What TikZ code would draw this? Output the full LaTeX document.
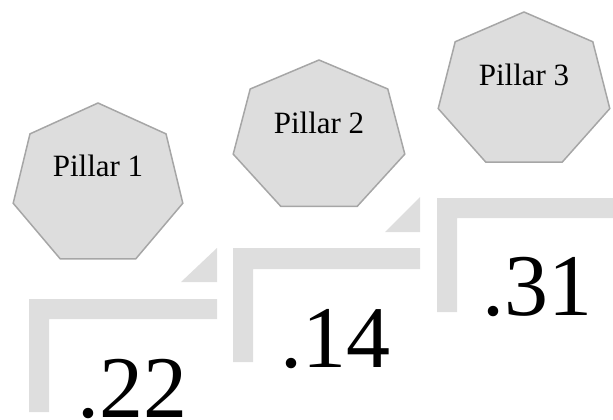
\documentclass[tikz,border=0pt]{standalone}
\usepackage{fontspec}
\setmainfont{Liberation Serif}
\usetikzlibrary{positioning}

\begin{document}
\begin{tikzpicture}[x=1pt,y=-1pt]
	\tikzstyle{pillar}=[draw={gray!70},fill={gray!27},line width=1.5pt,line join=miter]
	\tikzstyle{stair}=[fill={gray!26}]
	\tikzstyle{caption}=[font=\fontsize{31}{31}\selectfont,inner sep=0pt,anchor=base]
	\tikzstyle{score}=[font=\fontsize{88}{88}\selectfont,inner sep=0pt,anchor=base]

	\useasboundingbox (0,0) rectangle (613,420);

	% stairs
	\fill[stair] (29,299) -- (217,299) -- (217,319) -- (49,319) -- (49,412) -- (29,412) -- cycle;
	\fill[stair] (181,282) -- (217,282) -- (217,248) -- cycle;
	\fill[stair] (233,248) -- (420,248) -- (420,269) -- (253,269) -- (253,362) -- (233,362) -- cycle;
	\fill[stair] (385,232) -- (420,232) -- (420,197) -- cycle;
	\fill[stair] (437,198) -- (613,198) -- (613,218) -- (457,218) -- (457,312) -- (437,312) -- cycle;

	% pillars
	\foreach \cx/\cy/\rx/\ry/\n in {98/185/87/82/1, 319/137/88/77/2, 524/91/88/79/3} {
		\draw[pillar] plot[samples at={0,...,6}] ({\cx+\rx*cos(90+\x*360/7)},{\cy-\ry*sin(90+\x*360/7)}) -- cycle;
		\node[caption] (p\n) at (\cx,\cy-\ry+73) {Pillar \n};
	}

	% scores
	\node[score] (s1) at (132,417) {.22};
	\node[score] (s2) at (335,367) {.14};
	\node[score] (s3) at (537,315) {.31};
\end{tikzpicture}
\end{document}
